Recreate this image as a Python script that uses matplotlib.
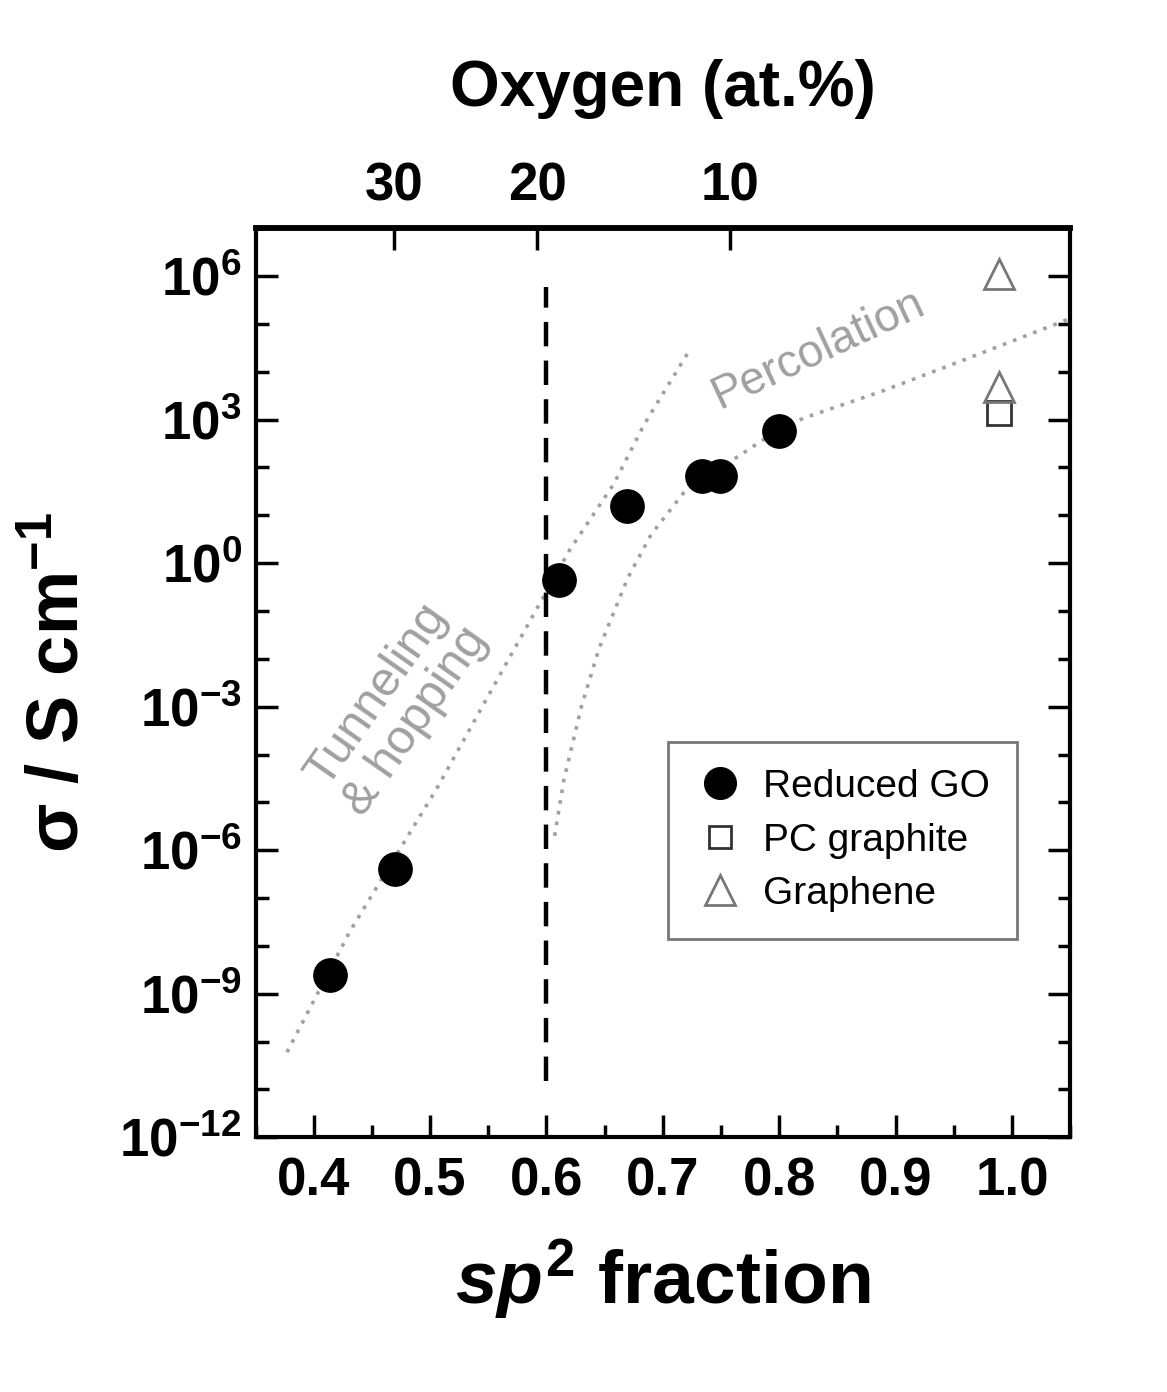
import numpy as np
import matplotlib
matplotlib.use("Agg")
import matplotlib.pyplot as plt
import matplotlib.ticker as mticker

plt.rcParams["font.family"] = ["Liberation Sans", "DejaVu Sans"]
plt.rcParams["font.weight"] = "bold"
plt.rcParams["axes.labelweight"] = "bold"
plt.rcParams["mathtext.fontset"] = "custom"
plt.rcParams["mathtext.rm"] = "Liberation Sans:bold"
plt.rcParams["mathtext.bf"] = "Liberation Sans:bold"
plt.rcParams["mathtext.it"] = "Liberation Sans:italic:bold"

# ── data ───────────────────────────────────────────────────────────────────
rgo_x = [0.414, 0.470, 0.611, 0.669, 0.734, 0.749, 0.800]
rgo_y = [2.5e-9, 4e-7, 0.45, 16, 67, 67, 575]

pc_x = [0.989]
pc_y = [1.35e3]

graphene_x = [0.989, 0.989]
graphene_y = [1.1e6, 4.9e3]

# guide lines (gray dotted)
tun_x = [0.377, 0.431, 0.506, 0.574, 0.620, 0.658, 0.684, 0.722]
tun_y = [6e-11, 2e-8, 2e-5, 1.9e-2, 1.9, 46, 800, 2.6e4]

perc_x = [0.607, 0.615, 0.630, 0.645, 0.670, 0.690, 0.724, 0.763, 0.800,
          0.822, 0.888, 0.954, 1.05]
perc_y = [2e-6, 3e-5, 1e-3, 1.6e-2, 0.5, 4, 46, 160, 630, 1100, 3900,
          1.6e4, 1.3e5]

thresh_x = 0.6
thresh_y = [1.5e-11, 6e5]

# top axis: oxygen content
oxy_pos = [0.469, 0.592, 0.758]
oxy_labels = ["30", "20", "10"]

GRAY = "#a0a0a0"

fig = plt.figure(figsize=(11.67, 13.92), dpi=100)
ax = fig.add_axes([0.219, 0.183, 0.698, 0.653])

ax.plot(tun_x, tun_y, color=GRAY, lw=2.6, ls=(0, (1, 2.0)), zorder=1)
ax.plot(perc_x, perc_y, color=GRAY, lw=2.6, ls=(0, (1, 2.0)), zorder=1)
ax.plot([thresh_x, thresh_x], thresh_y, color="k", lw=3.2,
        ls=(0, (5.5, 3.2)), zorder=1)

ax.plot(rgo_x, rgo_y, ls="none", marker="o", ms=24, color="k", zorder=3,
        label="Reduced GO")
ax.plot(pc_x, pc_y, ls="none", marker="s", ms=17, mfc="white", mec="#333333",
        mew=2, zorder=3, label="PC graphite")
ax.plot(graphene_x, graphene_y, ls="none", marker="^", ms=22, mfc="none",
        mec="#777777", mew=2, zorder=3, label="Graphene")

ax.set_yscale("log")
ax.set_xlim(0.35, 1.05)
ax.set_ylim(1e-12, 1e7)

ax.xaxis.set_major_locator(mticker.MultipleLocator(0.1))
ax.xaxis.set_minor_locator(mticker.MultipleLocator(0.05))
ax.xaxis.set_major_formatter(mticker.FormatStrFormatter("%.1f"))
ax.yaxis.set_major_locator(mticker.LogLocator(base=1000, numticks=20))
ax.yaxis.set_minor_locator(mticker.LogLocator(base=10, subs=(1.0,), numticks=30))
ax.yaxis.set_minor_formatter(mticker.NullFormatter())
ax.yaxis.set_major_formatter(mticker.FuncFormatter(
    lambda v, _: r"$\mathbf{10^{%d}}$" % int(round(np.log10(v)))))

ax.tick_params(which="both", direction="in", top=False, right=True, width=2.5)
ax.tick_params(which="major", length=16, labelsize=38, pad=14)
ax.tick_params(which="minor", length=9)
ax.tick_params(axis="y", which="major", labelsize=38, pad=10)
for s in ax.spines.values():
    s.set_linewidth(3)
ax.spines["top"].set_linewidth(4)

ax.set_xlabel(r"$sp^{\mathbf{2}}$ fraction", fontsize=54, labelpad=22)
ax.set_ylabel(r"σ / S cm$^{\mathbf{-1}}$", fontsize=52, labelpad=18)

top = ax.twiny()
top.set_xlim(ax.get_xlim())
top.set_xticks(oxy_pos)
top.set_xticklabels(oxy_labels)
top.tick_params(direction="in", length=16, width=2.5, labelsize=38, pad=12)
top.set_xlabel("Oxygen (at.%)", fontsize=46, labelpad=40)
top.spines["top"].set_linewidth(4)

ax.text(0.173, 0.472, "Tunneling\n& hopping", transform=ax.transAxes,
        rotation=55, color=GRAY, fontsize=35, fontweight="normal",
        ha="center", va="center", multialignment="center", linespacing=1.05)
ax.text(0.690, 0.866, "Percolation", transform=ax.transAxes,
        rotation=25, color=GRAY, fontsize=33, fontweight="normal",
        ha="center", va="center")

leg = ax.legend(loc="upper left", bbox_to_anchor=(0.506, 0.435),
                borderaxespad=0, prop={"weight": "normal", "size": 28},
                fancybox=False, frameon=True, borderpad=0.7,
                handletextpad=0.45, handlelength=1.3, labelspacing=0.45,
                markerscale=0.95)
leg.get_frame().set_edgecolor("#555555")
leg.get_frame().set_linewidth(2)

fig.savefig("out.png", dpi=100)
